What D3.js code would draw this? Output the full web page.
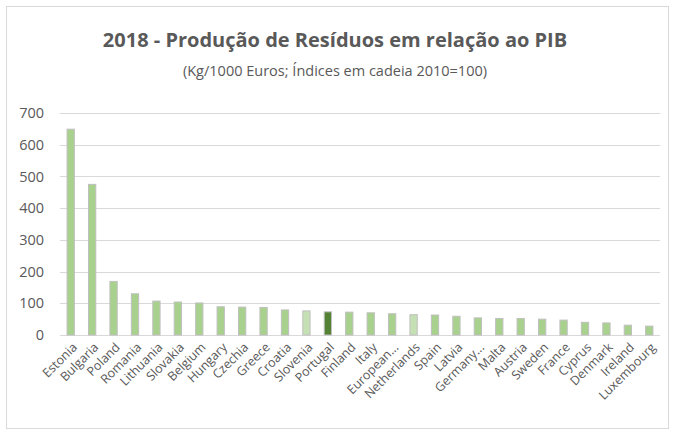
<!DOCTYPE html>
<html>
<head>
<meta charset="utf-8">
<script src="https://cdn.jsdelivr.net/npm/d3@7"></script>
<style>
  body { margin: 0; background: #fff; }
  svg text { font-family: "Open Sans", "Noto Sans", sans-serif; }
</style>
</head>
<body>
<div id="chart"></div>
<script>
// Dados (Kg/1000 Euros; índices em cadeia 2010=100)
const countries = ["Estonia", "Bulgaria", "Poland", "Romania", "Lithuania", "Slovakia", "Belgium",
  "Hungary", "Czechia", "Greece", "Croatia", "Slovenia", "Portugal", "Finland", "Italy",
  "European...", "Netherlands", "Spain", "Latvia", "Germany...", "Malta", "Austria", "Sweden",
  "France", "Cyprus", "Denmark", "Ireland", "Luxembourg"];
const values = [649, 475, 169, 130, 107, 104, 101, 89, 88, 87, 79, 76, 73, 72, 70,
  67, 64, 63, 59, 54, 52, 52, 50, 47, 40, 38, 31, 28];
// 0 = normal, 1 = claro, 2 = destaque escuro
const highlight = [0,0,0,0,0,0,0,0,0,0,0,1,2,0,0,0,1,0,0,0,0,0,0,0,0,0,0,0];
const yTicks = [0, 100, 200, 300, 400, 500, 600, 700];

const width = 675, height = 432;
const margin = { left: 60, right: 15, top: 113, bottom: 97 };
const fills = ["#a9d18e", "#c5e0b4", "#548235"];

const svg = d3.select("#chart").append("svg")
  .attr("width", width)
  .attr("height", height);

// moldura do gráfico
svg.append("rect")
  .attr("x", 6.5).attr("y", 6.5)
  .attr("width", 662).attr("height", 422)
  .attr("fill", "#fff")
  .attr("stroke", "#d9d9d9");

// Títulos
svg.append("text")
  .attr("x", 335).attr("y", 47)
  .attr("text-anchor", "middle")
  .attr("fill", "#595959")
  .style("font-size", "20px")
  .style("font-weight", "bold")
  .text("2018 - Produção de Resíduos em relação ao PIB");

svg.append("text")
  .attr("x", 335).attr("y", 76)
  .attr("text-anchor", "middle")
  .attr("fill", "#595959")
  .style("font-size", "14.5px")
  .text("(Kg/1000 Euros; Índices em cadeia 2010=100)");

const x = d3.scaleBand()
  .domain(countries)
  .range([margin.left, width - margin.right])
  .paddingInner(0.66)
  .paddingOuter(0.33);

const y = d3.scaleLinear()
  .domain([0, 700])
  .range([height - margin.bottom, margin.top]);

// Grelha
svg.append("g")
  .selectAll("line")
  .data(yTicks)
  .enter().append("line")
  .attr("x1", margin.left).attr("x2", width - margin.right)
  .attr("y1", d => Math.round(y(d)) + 0.5)
  .attr("y2", d => Math.round(y(d)) + 0.5)
  .attr("stroke", "#d9d9d9")
  .attr("stroke-width", 1);

// Eixo Y
const yAxis = svg.append("g")
  .attr("transform", `translate(${margin.left - 16},0)`)
  .call(d3.axisLeft(y).tickValues(yTicks).tickSize(0).tickPadding(0));
yAxis.select(".domain").remove();
yAxis.selectAll("text")
  .attr("fill", "#595959")
  .style("font-size", "14.5px");

// Barras
svg.append("g")
  .selectAll("rect")
  .data(countries)
  .enter().append("rect")
  .attr("x", d => x(d))
  .attr("y", (d, i) => y(values[i]))
  .attr("width", x.bandwidth())
  .attr("height", (d, i) => y(0) - y(values[i]))
  .attr("fill", (d, i) => fills[highlight[i]])
  .attr("stroke", "#bfbfbf")
  .attr("stroke-width", 1);

// Eixo X
const xAxis = svg.append("g")
  .attr("transform", `translate(0,${y(0)})`)
  .call(d3.axisBottom(x).tickSize(0).tickPadding(0));
xAxis.select(".domain").remove();
xAxis.selectAll("text")
  .attr("fill", "#595959")
  .style("font-size", "12.5px")
  .attr("text-anchor", "end")
  .attr("dy", "0.35em")
  .attr("transform", "translate(4,10) rotate(-45)");
</script>
</body>
</html>
